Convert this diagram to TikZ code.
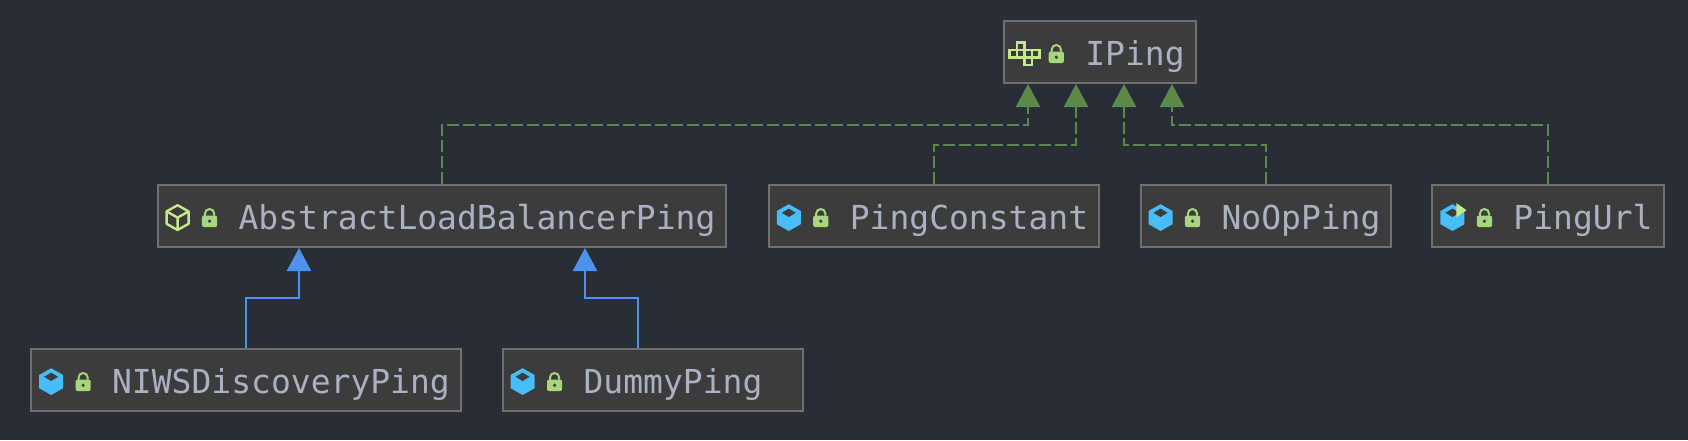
\documentclass[tikz,border=0pt]{standalone}
\usepackage{fontspec}
\newfontfamily\codefont{DejaVu Sans Mono}
\usetikzlibrary{arrows.meta}

\definecolor{bgdark}{HTML}{292D36}
\definecolor{boxfill}{HTML}{3C3C3C}
\definecolor{boxline}{HTML}{707070}
\definecolor{nametext}{HTML}{A9B1C2}
\definecolor{implgreen}{HTML}{5A8A48}
\definecolor{extblue}{HTML}{4F92EC}
\definecolor{lockgreen}{HTML}{A8D67F}
\definecolor{cubegreen}{HTML}{C3E88D}
\definecolor{cubeblue}{HTML}{47BDFA}

\newcommand{\cname}[1]{\hspace*{35pt}#1}

\tikzset{
	cls/.style={draw=boxline, fill=boxfill, line width=1pt, text=nametext,
		font=\codefont\fontsize{16.5}{20}\selectfont, minimum height=31pt, inner xsep=5.5pt,
		text height=14.4pt, text depth=1.4pt},
	impl/.style={-{Triangle[length=11.5pt,width=12pt]}, draw=implgreen, line width=1.2pt,
		dash pattern=on 6pt off 2pt},
	ext/.style={-{Triangle[length=11.5pt,width=12pt]}, draw=extblue, line width=1.2pt},
	lockicon/.pic={
		\fill[lockgreen, rounded corners=1pt] (-3.8pt,-4.7pt) rectangle (3.8pt,1pt);
		\draw[lockgreen, line width=1pt] (-2.3pt,0.5pt) -- (-2.3pt,2pt) arc (180:0:2.3pt) -- (2.3pt,1pt);
		\fill[boxfill] (0,-1.8pt) circle (0.9pt);
	},
	cubeicon/.pic={
		\draw[cubegreen, line width=1.2pt, line join=round] (0,6.2pt) -- (5.5pt,3.1pt) -- (5.5pt,-3.1pt) -- (0,-6.2pt)
			-- (-5.5pt,-3.1pt) -- (-5.5pt,3.1pt) -- cycle;
		\draw[cubegreen, line width=1.2pt, line join=round] (-5.5pt,3.1pt) -- (0,0) -- (5.5pt,3.1pt) (0,0) -- (0,-6.2pt);
	},
	boxicon/.pic={
		\fill[cubeblue, line join=round] (0,6.7pt) -- (6pt,3.3pt) -- (6pt,-3.3pt) -- (0,-6.7pt)
			-- (-6pt,-3.3pt) -- (-6pt,3.3pt) -- cycle;
		\fill[boxfill] (0,4.5pt) -- (3.5pt,2.4pt) -- (0,0.3pt) -- (-3.5pt,2.4pt) -- cycle;
	},
	urlicon/.pic={
		\pic {boxicon};
		\fill[cubegreen] (2pt,7.2pt) -- (7pt,3.7pt) -- (2pt,0.2pt) -- cycle;
	},
	tetrisicon/.pic={
		\foreach \cx/\cy in {-1/1,-2/0,-1/0,0/0,1/0,0/-1}
			\draw[cubegreen, line width=1.2pt] (\cx*3.75pt,\cy*3.75pt-1.875pt) rectangle +(3.75pt,3.75pt);
	}
}

\begin{document}
\begin{tikzpicture}
	\useasboundingbox (0,0) rectangle (844pt,-220pt);
	\fill[bgdark] (0,0) rectangle (844pt,-220pt);

	\node[cls] (iping) at (550pt,-26pt) {\cname{IPing}};

	\node[cls] (abstract) [below of=iping, node distance=82pt, xshift=-329pt] {\cname{AbstractLoadBalancerPing}};
	\node[cls] (constant) [right of=abstract, node distance=246pt] {\cname{PingConstant}};
	\node[cls] (noop) [right of=constant, node distance=166pt] {\cname{NoOpPing}};
	\node[cls] (pingurl) [right of=noop, node distance=141pt] {\cname{PingUrl}};

	\node[cls] (niws) [below of=abstract, node distance=82pt, xshift=-98pt] {\cname{NIWSDiscoveryPing}};
	\node[cls] (dummy) [right of=niws, node distance=203.5pt] {\cname{DummyPing\hspace*{15pt}}};

	\foreach \nm in {iping,abstract,constant,noop,pingurl,niws,dummy}
		\pic at ([xshift=26.5pt,yshift=-0.8pt]\nm.west) {lockicon};

	\pic at ([xshift=10.5pt,yshift=-0.8pt]iping.west) {tetrisicon};
	\pic at ([xshift=10.5pt,yshift=-0.8pt]abstract.west) {cubeicon};
	\pic at ([xshift=10.5pt,yshift=-0.8pt]constant.west) {boxicon};
	\pic at ([xshift=10.5pt,yshift=-0.8pt]noop.west) {boxicon};
	\pic at ([xshift=10.5pt,yshift=-0.8pt]pingurl.west) {urlicon};
	\pic at ([xshift=10.5pt,yshift=-0.8pt]niws.west) {boxicon};
	\pic at ([xshift=10.5pt,yshift=-0.8pt]dummy.west) {boxicon};

	\draw[impl] (abstract.north) -- ++(0,29.5pt) -| ([xshift=-36pt]iping.south);
	\draw[impl] (constant.north) -- ++(0,19.5pt) -| ([xshift=-12pt]iping.south);
	\draw[impl] (noop.north) -- ++(0,19.5pt) -| ([xshift=12pt]iping.south);
	\draw[impl] (pingurl.north) -- ++(0,29.5pt) -| ([xshift=36pt]iping.south);

	\draw[ext] (niws.north) -- ++(0,25pt) -| ([xshift=-71.5pt]abstract.south);
	\draw[ext] ([xshift=-7.5pt]dummy.north) -- ++(0,25pt) -| ([xshift=71.5pt]abstract.south);
\end{tikzpicture}
\end{document}
